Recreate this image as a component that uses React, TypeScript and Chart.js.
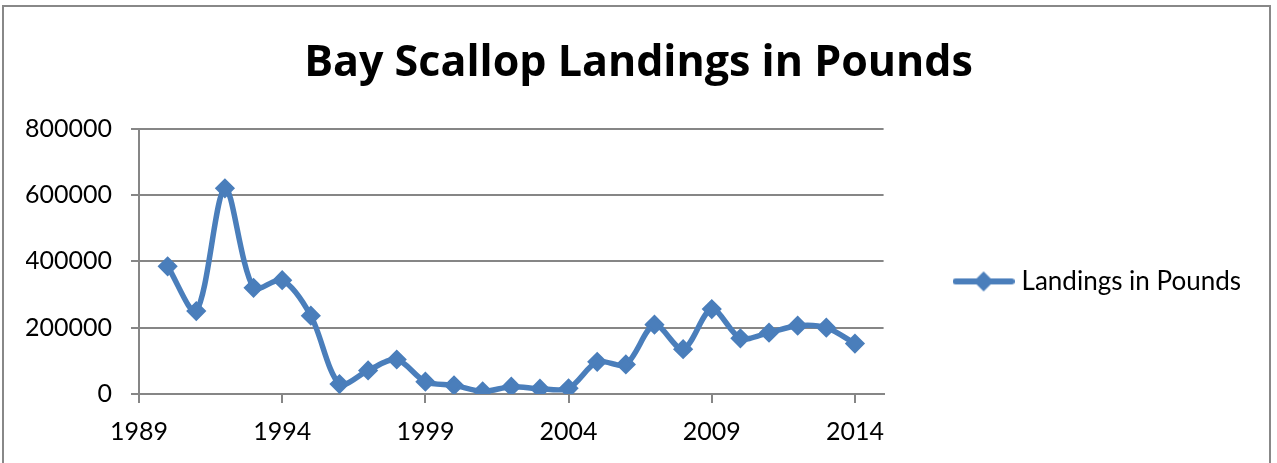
import React, { useEffect, useRef } from 'react';
import { Chart, registerables } from 'chart.js';

Chart.register(...registerables);

const chartTitle = 'Bay Scallop Landings in Pounds';
const seriesName = 'Landings in Pounds';
const years = [1990, 1991, 1992, 1993, 1994, 1995, 1996, 1997, 1998, 1999, 2000, 2001, 2002, 2003, 2004, 2005, 2006, 2007, 2008, 2009, 2010, 2011, 2012, 2013, 2014];
const landings = [385000, 250000, 620000, 320000, 343000, 236000, 30000, 71000, 104000, 37000, 26000, 8000, 22000, 16000, 17000, 97000, 89000, 209000, 135000, 256000, 168000, 185000, 206000, 200000, 152000];
const xTickYears = [1989, 1994, 1999, 2004, 2009, 2014];
const yTickValues = [0, 200000, 400000, 600000, 800000];

const LINE = '#4A7EBB';
const GRID = '#868686';
const FONT = 'Lato';

function makeLegendIcon(): HTMLCanvasElement {
  const c = document.createElement('canvas');
  c.width = 62;
  c.height = 22;
  const ctx = c.getContext('2d') as CanvasRenderingContext2D;
  ctx.strokeStyle = LINE;
  ctx.lineWidth = 6;
  ctx.lineCap = 'round';
  ctx.beginPath();
  ctx.moveTo(3, 11);
  ctx.lineTo(59, 11);
  ctx.stroke();
  ctx.fillStyle = LINE;
  ctx.beginPath();
  ctx.moveTo(31, 1);
  ctx.lineTo(41, 11);
  ctx.lineTo(31, 21);
  ctx.lineTo(21, 11);
  ctx.closePath();
  ctx.fill();
  return c;
}

export default function App() {
  const ref = useRef<HTMLCanvasElement>(null);

  useEffect(() => {
    document.body.style.margin = '0';
    const canvas = ref.current;
    if (!canvas) return;
    const icon = makeLegendIcon();
    const chart = new Chart(canvas, {
      type: 'line',
      data: {
        datasets: [
          {
            label: seriesName,
            data: years.map((y, i) => ({ x: y, y: landings[i] })),
            borderColor: LINE,
            backgroundColor: LINE,
            borderWidth: 5.5,
            tension: 0.3,
            pointStyle: 'rectRot',
            pointRadius: 8,
            pointBorderWidth: 3,
            pointBackgroundColor: LINE,
            pointBorderColor: LINE,
            fill: false,
          },
        ],
      },
      options: {
        animation: false,
        responsive: false,
        maintainAspectRatio: false,
        layout: { padding: { top: 12, left: 26, right: 26, bottom: 2 } },
        plugins: {
          title: {
            display: true,
            text: chartTitle,
            color: '#000',
            font: { family: 'Open Sans', size: 43, weight: 'bold' },
            padding: { top: 26, bottom: 39 },
          },
          legend: {
            position: 'right',
            fullSize: false,
            align: 'center',
            maxWidth: 420,
            title: { display: true, text: '', padding: { top: 39, bottom: 0 }, font: { size: 1 } },
            labels: {
              usePointStyle: true,
              pointStyleWidth: 50,
              padding: 75,
              color: '#000',
              font: { family: FONT, size: 26 },
              generateLabels: () => [
                {
                  text: seriesName,
                  pointStyle: icon as any,
                  fillStyle: LINE,
                  strokeStyle: LINE,
                  fontColor: '#000',
                  lineWidth: 0,
                  datasetIndex: 0,
                  hidden: false,
                } as any,
              ],
            },
          },
          tooltip: { enabled: false },
        },
        scales: {
          x: {
            type: 'linear',
            min: 1989,
            max: 2015,
            afterBuildTicks: (s: any) => {
              s.ticks = xTickYears.map((v) => ({ value: v }));
            },
            grid: { drawOnChartArea: false, tickLength: 9, color: GRID, lineWidth: 2 },
            border: { color: GRID, width: 2 },
            ticks: {
              color: '#000',
              padding: 14,
              maxRotation: 0,
              font: { family: FONT, size: 25 },
              callback: (v: any) => String(v),
            },
          },
          y: {
            type: 'linear',
            min: 0,
            max: 800000,
            afterBuildTicks: (s: any) => {
              s.ticks = yTickValues.map((v) => ({ value: v }));
            },
            afterFit: (s: any) => {
              s.width = 113;
            },
            grid: { color: GRID, lineWidth: 2, tickLength: 8 },
            border: { color: GRID, width: 2 },
            ticks: {
              color: '#000',
              padding: 19,
              font: { family: FONT, size: 25 },
              callback: (v: any) => String(v),
            },
          },
        },
      },
    });
    return () => chart.destroy();
  }, []);

  return (
    <div style={{ position: 'relative', width: 1277, height: 463, overflow: 'hidden', background: '#fff' }}>
      <canvas ref={ref} width={1277} height={463} style={{ display: 'block', position: 'absolute', left: 0, top: 0 }} />
      <div
        style={{
          position: 'absolute',
          left: 2,
          top: 5,
          width: 1269,
          height: 480,
          border: '2px solid #888888',
          boxSizing: 'border-box',
          pointerEvents: 'none',
        }}
      />
    </div>
  );
}
